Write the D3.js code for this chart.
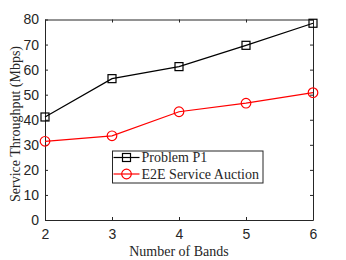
<!DOCTYPE html>
<html>
<head>
<meta charset="utf-8">
<script src="https://cdn.jsdelivr.net/npm/d3@7"></script>
<style>
  body { margin: 0; background: #fff; }
  .tick text { font-family: "Liberation Sans", Arial, sans-serif; font-size: 14px; fill: #262626; }
  .lbl { font-family: "Liberation Serif", "Times New Roman", serif; font-size: 14px; fill: #262626; }
</style>
</head>
<body>
<div id="chart"></div>
<script>
(function(d3) {
var bands = [2, 3, 4, 5, 6];
var problemP1 = [41.1, 56.4, 61.2, 69.7, 78.5];
var auction = [31.4, 33.6, 43.2, 46.6, 50.8];
var yTicks = [0, 10, 20, 30, 40, 50, 60, 70, 80];
var seriesNames = ["Problem P1", "E2E Service Auction"];

var margin = {top: 19.5, right: 33, bottom: 40, left: 45},
    width = 346 - margin.left - margin.right,
    height = 260 - margin.top - margin.bottom;

var x = d3.scaleLinear().domain([2, 6]).range([0, width]);
var y = d3.scaleLinear().domain([0, 80]).range([height, 0]);

var svg = d3.select("#chart").append("svg")
    .attr("width", 346)
    .attr("height", 260)
  .append("g")
    .attr("transform", "translate(" + margin.left + "," + margin.top + ")");

// axes with inward ticks, box style
var axCol = "#262626";
function styleAxis(g, noText) {
  g.select(".domain").attr("stroke", axCol);
  g.selectAll(".tick line").attr("stroke", axCol);
  if (noText) g.selectAll(".tick text").remove();
}
svg.append("g")
    .attr("transform", "translate(0," + height + ")")
    .call(d3.axisBottom(x).tickValues(bands).tickFormat(d3.format("d")).tickSizeInner(-3).tickSizeOuter(0).tickPadding(9))
    .call(styleAxis);
svg.append("g")
    .call(d3.axisTop(x).tickValues(bands).tickSizeInner(-3).tickSizeOuter(0))
    .call(function(g) { styleAxis(g, true); });
svg.append("g")
    .call(d3.axisLeft(y).tickValues(yTicks).tickSizeInner(-3).tickSizeOuter(0).tickPadding(6))
    .call(styleAxis);
svg.append("g")
    .attr("transform", "translate(" + width + ",0)")
    .call(d3.axisRight(y).tickValues(yTicks).tickSizeInner(-3).tickSizeOuter(0))
    .call(function(g) { styleAxis(g, true); });

var line = d3.line()
    .x(function(d, i) { return x(bands[i]); })
    .y(function(d) { return y(d); });

// Problem P1 (black squares)
svg.append("path").datum(problemP1)
    .attr("fill", "none").attr("stroke", "#000").attr("stroke-width", 1.2)
    .attr("d", line);
svg.selectAll("rect.sq").data(problemP1).enter().append("rect")
    .attr("class", "sq")
    .attr("x", function(d, i) { return x(bands[i]) - 4; })
    .attr("y", function(d) { return y(d) - 4; })
    .attr("width", 8).attr("height", 8)
    .attr("fill", "none").attr("stroke", "#000").attr("stroke-width", 1.2);

// E2E Service Auction (red circles)
svg.append("path").datum(auction)
    .attr("fill", "none").attr("stroke", "#ff0000").attr("stroke-width", 1.2)
    .attr("d", line);
svg.selectAll("circle.ci").data(auction).enter().append("circle")
    .attr("class", "ci")
    .attr("cx", function(d, i) { return x(bands[i]); })
    .attr("cy", function(d) { return y(d); })
    .attr("r", 4.8)
    .attr("fill", "none").attr("stroke", "#ff0000").attr("stroke-width", 1.2);

// legend
var lg = svg.append("g").attr("transform", "translate(" + (112.5 - margin.left) + "," + (151 - margin.top) + ")");
lg.append("rect").attr("width", 150.5).attr("height", 32)
    .attr("fill", "#fff").attr("stroke", axCol).attr("stroke-width", 1);
var rowsY = [6.5, 23];
var colors = ["#000", "#ff0000"];
seriesNames.forEach(function(name, i) {
  var cy = rowsY[i];
  lg.append("line").attr("x1", 1).attr("x2", 27).attr("y1", cy).attr("y2", cy)
      .attr("stroke", colors[i]).attr("stroke-width", 1.2);
  if (i === 0) {
    lg.append("rect").attr("x", 14 - 4).attr("y", cy - 4).attr("width", 8).attr("height", 8)
        .attr("fill", "none").attr("stroke", colors[i]).attr("stroke-width", 1.2);
  } else {
    lg.append("circle").attr("cx", 14).attr("cy", cy).attr("r", 4.8)
        .attr("fill", "none").attr("stroke", colors[i]).attr("stroke-width", 1.2);
  }
  lg.append("text").attr("class", "lbl")
      .attr("x", 29).attr("y", cy).attr("dy", "0.35em")
      .text(name);
});

// axis labels
svg.append("text").attr("class", "lbl")
    .attr("x", 179 - margin.left).attr("y", 251 - margin.top).attr("dy", "0.35em")
    .attr("text-anchor", "middle")
    .text("Number of Bands");
svg.append("text").attr("class", "lbl")
    .attr("transform", "translate(" + (15 - margin.left) + "," + (124 - margin.top) + ") rotate(-90)")
    .attr("dy", "0.35em")
    .attr("text-anchor", "middle")
    .text("Service Throughput (Mbps)");
})(window.d3);
</script>
</body>
</html>
